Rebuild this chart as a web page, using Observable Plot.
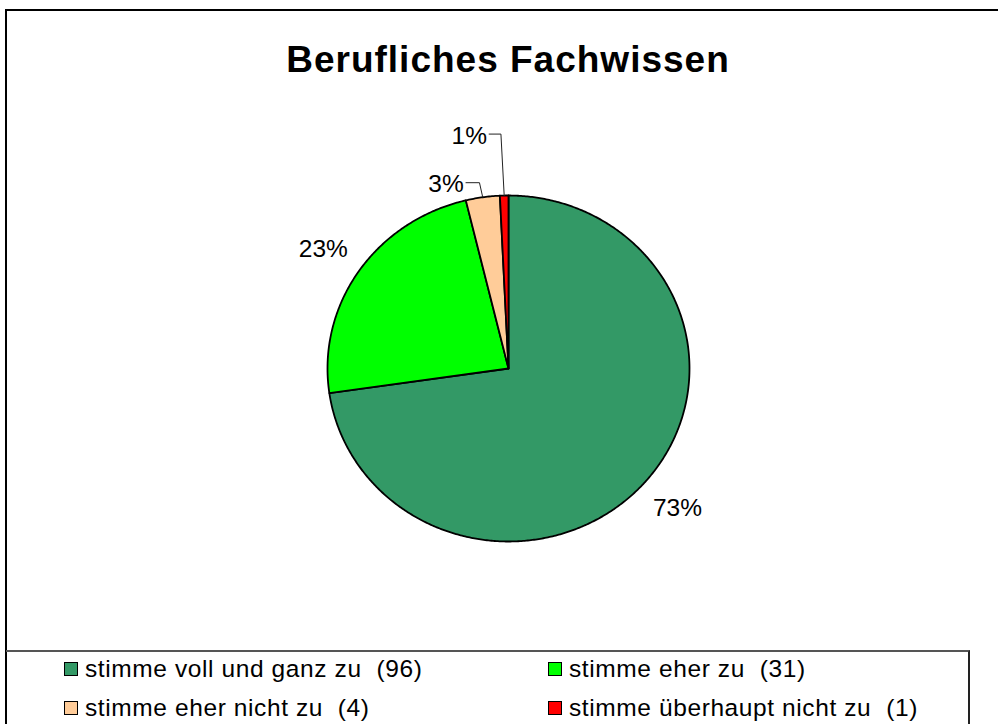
<!DOCTYPE html>
<html><head><meta charset="utf-8">
<script src="https://cdn.jsdelivr.net/npm/d3@7"></script>
<script src="https://cdn.jsdelivr.net/npm/@observablehq/plot@0.6"></script>
<style>
body{margin:0;background:#fff;font-family:"Liberation Sans",Arial,sans-serif;}
#wrap{position:relative;width:998px;height:724px;overflow:hidden;background:#fff;}
#frame{position:absolute;left:5px;top:9px;width:1100px;height:800px;border-top:2px solid #000;border-left:2px solid #000;}
#title{position:absolute;left:0;top:41px;width:1016px;text-align:center;font-weight:bold;font-size:37px;line-height:37px;letter-spacing:1px;color:#000;}
#chart{position:absolute;left:0;top:0;}
#legend{position:absolute;left:6px;top:650px;width:962px;height:120px;border-top:2px solid #555;border-right:2px solid #222;}
.item{position:absolute;display:flex;align-items:center;height:24px;font-size:24.5px;line-height:24px;letter-spacing:0.6px;color:#000;white-space:pre;}
.sw{width:12px;height:12px;border:1px solid #000;margin-right:7px;}
</style>
</head><body>
<div id="wrap">
  <div id="frame"></div>
  <div id="chart"></div>
  <div id="title"></div>
  <div id="legend"></div>
</div>
<script>
const title = "Berufliches Fachwissen";
const categories = ["stimme voll und ganz zu", "stimme eher zu", "stimme eher nicht zu", "stimme überhaupt nicht zu"];
const counts = [96, 31, 4, 1];
const colors = ["#339966", "#00ff00", "#ffcc99", "#ff0000"];
// manually moved labels (in pie-radius units); null = automatic
const labelAnchors = [null, null, [-0.345, 1.064], [-0.217, 1.345]];

document.getElementById("title").textContent = title;

const total = d3.sum(counts);
const arcs = d3.pie().sort(null).value(d => d)(counts);

const wedges = [];
arcs.forEach((a, i) => {
  const n = Math.max(2, Math.ceil((a.endAngle - a.startAngle) / (Math.PI / 360)));
  wedges.push({k: i, x: 0, y: 0});
  for (let j = 0; j <= n; j++) {
    const t = a.startAngle + (a.endAngle - a.startAngle) * j / n;
    wedges.push({k: i, x: Math.sin(t), y: Math.cos(t)});
  }
  wedges.push({k: i, x: 0, y: 0});
});

const labels = [];
const leaders = [];
arcs.forEach((a, i) => {
  const mid = (a.startAngle + a.endAngle) / 2;
  const txt = Math.round(counts[i] / total * 100) + "%";
  const anc = labelAnchors[i];
  if (!anc) {
    labels.push({x: 1.235 * Math.sin(mid), y: 1.235 * Math.cos(mid), text: txt});
  } else {
    labels.push({x: anc[0], y: anc[1], text: txt});
    const ax = Math.sin(mid), ay = Math.cos(mid);
    leaders.push({k: i, x: anc[0] + 0.11, y: anc[1] + 0.01});
    leaders.push({k: i, x: ax - 0.018, y: anc[1] + 0.01});
    leaders.push({k: i, x: ax, y: ay});
  }
});

const plot = Plot.plot({
  width: 998,
  height: 650,
  margin: 0,
  style: {background: "none"},
  x: {domain: [-1, 1], range: [327, 689], axis: null},
  y: {domain: [-1, 1], range: [541, 195], axis: null},
  color: {domain: categories, range: colors},
  marks: [
    Plot.line(wedges, {x: "x", y: "y", z: "k", fill: d => categories[d.k], stroke: "#000", strokeWidth: 1.8, strokeLinejoin: "round", curve: "linear"}),
    Plot.line(leaders, {x: "x", y: "y", z: "k", stroke: "#222", strokeWidth: 1, curve: "linear"}),
    Plot.text(labels, {x: "x", y: "y", text: "text", fontSize: 24.5, fontFamily: "Liberation Sans, Arial, sans-serif", fill: "#000"})
  ]
});
document.getElementById("chart").appendChild(plot);

const lg = document.getElementById("legend");
const pos = [[58, 5], [542, 5], [58, 44], [542, 44]];
categories.forEach((c, i) => {
  const it = document.createElement("div");
  it.className = "item";
  it.style.left = pos[i][0] + "px";
  it.style.top = pos[i][1] + "px";
  const sw = document.createElement("span");
  sw.className = "sw";
  sw.style.background = colors[i];
  const tx = document.createElement("span");
  tx.textContent = c + "  (" + counts[i] + ")";
  it.appendChild(sw); it.appendChild(tx);
  lg.appendChild(it);
});
</script>
</body></html>
